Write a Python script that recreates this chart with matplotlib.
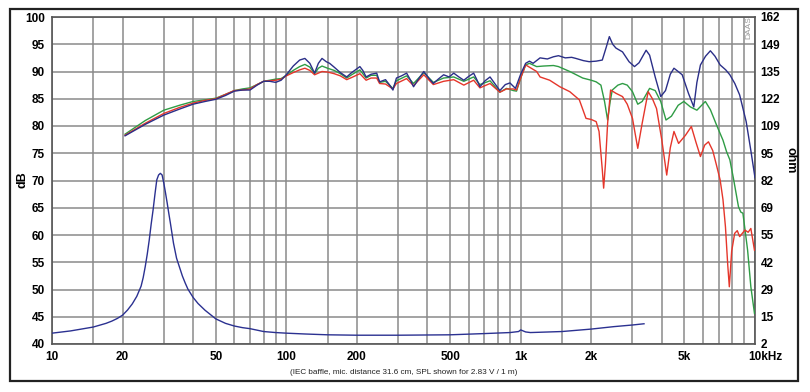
import numpy as np
import matplotlib
matplotlib.use("Agg")
import matplotlib.pyplot as plt
from matplotlib.patches import Rectangle
from matplotlib.transforms import ScaledTranslation

plt.rcParams['font.family'] = ['Liberation Sans', 'DejaVu Sans']

# ---------------- data ----------------
blue_f = [20.5, 25, 30, 35, 40, 45, 50, 55, 60, 65, 70, 75, 80, 85, 90, 95, 100, 107, 114, 120, 126, 132,
          137, 142, 148, 153, 160, 170, 181, 190, 206, 212, 219, 230, 243, 250, 265, 275, 285, 295, 310,
          326, 338, 349, 365, 386, 405, 424, 445, 469, 495, 518, 545, 572, 600, 630, 650, 670, 705, 740,
          775, 815, 860, 900, 950, 1000, 1050, 1090, 1130, 1210, 1300, 1380, 1450, 1550, 1650, 1720,
          1850, 1960, 2100, 2230, 2320, 2390, 2470, 2550, 2720, 2900, 3060, 3200, 3430, 3550, 3750, 3960,
          4150, 4350, 4510, 4700, 4890, 5200, 5480, 5650, 5850, 6150, 6450, 6750, 7100, 7500, 7810, 8200,
          8600, 9170, 9600, 10000]
blue_db = [78.2, 80.3, 82.0, 83.1, 84.0, 84.5, 84.9, 85.6, 86.4, 86.6, 86.6, 87.5, 88.2, 88.2, 88.0, 88.4,
           89.4, 91.0, 92.1, 92.4, 91.5, 89.7, 91.5, 92.4, 91.8, 91.5, 90.8, 89.8, 89.0, 89.8, 90.9, 90.2,
           89.0, 89.5, 89.7, 88.1, 88.5, 87.6, 86.6, 88.8, 89.2, 89.7, 88.5, 87.2, 88.5, 90.0, 88.8, 87.8,
           88.6, 89.4, 89.0, 89.7, 89.0, 88.4, 89.1, 89.7, 88.5, 87.2, 88.3, 89.0, 87.8, 86.5, 87.6, 87.9,
           86.9, 89.5, 91.5, 91.9, 91.5, 92.5, 92.3, 92.7, 92.9, 92.5, 92.6, 92.4, 92.0, 91.8, 91.9, 92.1,
           94.5, 96.4, 95.0, 94.3, 93.6, 91.8, 90.9, 91.6, 93.9, 93.0, 89.0, 85.4, 86.5, 89.5, 90.6, 90.0,
           89.4, 86.0, 83.5, 88.0, 91.2, 92.8, 93.8, 92.8, 91.2, 90.3, 89.4, 87.8, 85.7, 80.8, 75.5, 70.5]

green_f = [20.5, 25, 30, 35, 40, 45, 50, 55, 60, 65, 70, 75, 80, 85, 90, 95, 100, 107, 114, 120, 126, 132,
           137, 142, 150, 160, 170, 181, 190, 206, 219, 230, 243, 250, 265, 285, 295, 326, 349, 386, 424,
           469, 518, 572, 630, 670, 740, 815, 870, 930, 960, 1000, 1050, 1090, 1170, 1250, 1380, 1450, 1620,
           1840, 2000, 2100, 2200, 2280, 2350, 2410, 2460, 2600, 2720, 2850, 3000, 3160, 3300, 3550, 3750,
           3960, 4170, 4400, 4700, 4970, 5300, 5650, 6140, 6450, 6850, 7300, 7560, 7810, 8090, 8500, 8700,
           8880, 9300, 9600, 9950]
green_db = [78.5, 81.0, 82.9, 83.8, 84.5, 84.8, 85.1, 85.8, 86.5, 86.8, 87.0, 87.6, 88.2, 88.4, 88.6, 88.7,
            89.3, 90.2, 90.9, 91.3, 90.8, 89.6, 90.6, 91.0, 90.6, 90.2, 89.6, 88.8, 89.4, 90.3, 88.8, 89.3,
            89.3, 88.0, 88.2, 86.9, 88.3, 89.2, 87.8, 89.8, 88.0, 88.8, 89.0, 88.2, 89.0, 87.6, 88.3, 86.2,
            86.9, 86.5, 86.4, 88.8, 91.2, 91.5, 90.9, 91.0, 91.1, 90.9, 90.0, 88.8, 88.4, 88.1, 87.5, 84.5,
            81.1, 84.5, 86.6, 87.5, 87.8, 87.5, 86.3, 84.0, 84.5, 86.9, 86.5, 84.5, 81.1, 81.8, 83.8, 84.5,
            83.5, 82.9, 84.5, 83.0, 80.2, 77.4, 75.3, 73.8, 70.4, 65.2, 64.2, 64.0, 57.2, 50.5, 45.6]

red_f = [20.5, 25, 30, 35, 40, 45, 50, 55, 60, 65, 70, 75, 80, 85, 90, 95, 100, 107, 114, 120, 126, 132,
         142, 150, 160, 170, 181, 190, 206, 219, 230, 243, 250, 265, 285, 295, 326, 349, 386, 424, 469,
         518, 572, 630, 670, 740, 815, 870, 930, 960, 1000, 1050, 1080, 1170, 1210, 1330, 1470, 1620,
         1780, 1900, 2000, 2100, 2160, 2230, 2260, 2300, 2350, 2420, 2550, 2720, 2850, 3000, 3160, 3300,
         3500, 3650, 3800, 4000, 4200, 4350, 4510, 4720, 5050, 5350, 5600, 5850, 6100, 6330, 6600, 6850,
         7100, 7300, 7480, 7650, 7770, 7950, 8190, 8400, 8600, 9060, 9350, 9600, 9950]
red_db = [78.3, 80.5, 82.3, 83.4, 84.2, 84.7, 85.0, 85.8, 86.5, 86.6, 86.8, 87.6, 88.2, 88.3, 88.4, 88.6,
          89.2, 89.8, 90.3, 90.6, 90.2, 89.4, 90.0, 89.9, 89.6, 89.2, 88.5, 88.9, 89.6, 88.4, 88.8, 88.8,
          87.8, 87.7, 86.8, 87.8, 88.7, 87.4, 89.4, 87.6, 88.2, 88.5, 87.5, 88.4, 87.0, 87.8, 86.2, 86.8,
          86.8, 86.6, 88.8, 91.2, 90.9, 90.0, 89.0, 88.4, 87.2, 86.3, 84.8, 81.4, 81.2, 80.8, 79.0, 72.0,
          68.6, 73.0, 80.5, 86.6, 86.0, 85.4, 84.0, 81.4, 75.9, 80.5, 86.3, 85.0, 83.2, 77.5, 71.0, 76.0,
          79.0, 76.8, 78.3, 79.9, 77.0, 74.4, 76.5, 77.1, 75.5, 72.8, 70.1, 66.5, 61.5, 54.5, 50.5, 57.0,
          60.3, 60.8, 59.7, 60.9, 60.5, 61.2, 57.2]

imp_f = [10, 12, 15, 17, 18, 19, 20, 21, 22, 23, 24, 24.5, 25, 25.5, 26, 26.5, 27, 27.5, 28, 28.5, 29,
         29.5, 30, 30.5, 31, 31.5, 32, 33, 34, 35, 36, 37, 38, 40, 42, 45, 50, 55, 60, 65, 70, 80, 90,
         100, 120, 150, 200, 300, 500, 700, 900, 980, 1000, 1050, 1100, 1500, 2000, 2500, 3000, 3360]
imp_ohm = [7.3, 8.4, 10.3, 12.1, 13.2, 14.5, 16.1, 18.6, 21.6, 25.3, 30.3, 34.5, 39.9, 46.0, 52.9, 60.7,
           67.6, 75.3, 82.3, 84.7, 85.5, 84.7, 80.7, 76.0, 71.1, 66.0, 61.2, 51.3, 44.0, 39.6, 35.3, 31.9,
           28.9, 24.8, 21.8, 18.5, 14.3, 12.1, 10.8, 10.0, 9.5, 8.1, 7.6, 7.3, 6.9, 6.5, 6.3, 6.3, 6.5,
           7.1, 7.6, 8.1, 8.9, 7.9, 7.6, 8.1, 9.3, 10.5, 11.3, 11.9]

x_ticks = [10, 20, 50, 100, 200, 500, 1000, 2000, 5000, 10000]
x_labels = ['10', '20', '50', '100', '200', '500', '1k', '2k', '5k', '10kHz']
db_ticks = list(range(40, 101, 5))
ohm_ticks = list(np.linspace(2, 162, 13))
ohm_labels = ['2', '15', '29', '42', '55', '69', '82', '95', '109', '122', '135', '149', '162']

# ---------------- figure ----------------
W, H = 810, 392
fig = plt.figure(figsize=(W / 100, H / 100), dpi=100)
fig.patch.set_facecolor('white')

# outer frame
fig.patches.append(Rectangle((10 / W, 1 - 381 / H), 788 / W, 372 / H, transform=fig.transFigure,
                             fill=False, edgecolor='#222222', linewidth=1.6, zorder=0))

ax = fig.add_axes([52 / W, 1 - 344 / H, (755 - 52) / W, (344 - 17) / H])
ax.set_xscale('log')
ax.set_xlim(10, 10000)
ax.set_ylim(40, 100)

gridc = '#8a8a8a'
minor = []
for dec in [10, 100, 1000]:
    for m in [1.5, 3, 4, 6, 7, 8, 9]:
        minor.append(dec * m)
ax.set_xticks(x_ticks)
ax.set_xticklabels(x_labels)
ax.set_xticks(minor, minor=True)
ax.set_xticklabels([], minor=True)
ax.set_yticks(db_ticks)
ax.grid(True, which='both', axis='x', color=gridc, linewidth=1.1)
ax.grid(True, which='major', axis='y', color=gridc, linewidth=1.1)
ax.tick_params(which='both', length=0)
ax.tick_params(axis='x', pad=5, labelsize=8.5)
ax.tick_params(axis='y', pad=5, labelsize=8.5)
for lab in ax.get_xticklabels() + ax.get_yticklabels():
    lab.set_fontweight('bold')
xl = ax.get_xticklabels()
xl[-1].set_transform(xl[-1].get_transform() + ScaledTranslation(10 / 100, 0, fig.dpi_scale_trans))
for s in ax.spines.values():
    s.set_color('#555555')
    s.set_linewidth(1.2)

ax.plot(green_f, green_db, color='#2f9c45', lw=1.0, zorder=3)
ax.plot(red_f, red_db, color='#e5362b', lw=1.0, zorder=3)
ax.plot(blue_f, blue_db, color='#2b2f88', lw=1.0, zorder=4)

ax2 = ax.twinx()
ax2.set_ylim(2, 162)
ax2.set_yticks(ohm_ticks)
ax2.set_yticklabels(ohm_labels)
ax2.tick_params(length=0, pad=4, labelsize=8.5)
for lab in ax2.get_yticklabels():
    lab.set_fontweight('bold')
for s in ax2.spines.values():
    s.set_visible(False)
ax2.plot(imp_f, imp_ohm, color='#2b3191', lw=1.0, zorder=3)

fig.text(22 / W, 1 - 180 / H, 'dB', rotation=90, ha='center', va='center', fontsize=9, fontweight='bold')
fig.text(790 / W, 1 - 160 / H, 'ohm', rotation=270, ha='center', va='center', fontsize=9, fontweight='bold')
fig.text(404 / W, 1 - 373 / H, '(IEC baffle, mic. distance 31.6 cm, SPL shown for 2.83 V / 1 m)',
         ha='center', va='center', fontsize=5.9, color='#222222')
fig.text(749 / W, 1 - 28 / H, 'DAAS', rotation=90, ha='center', va='center', fontsize=6,
         color='#999999')

fig.savefig('out.png', dpi=100)
